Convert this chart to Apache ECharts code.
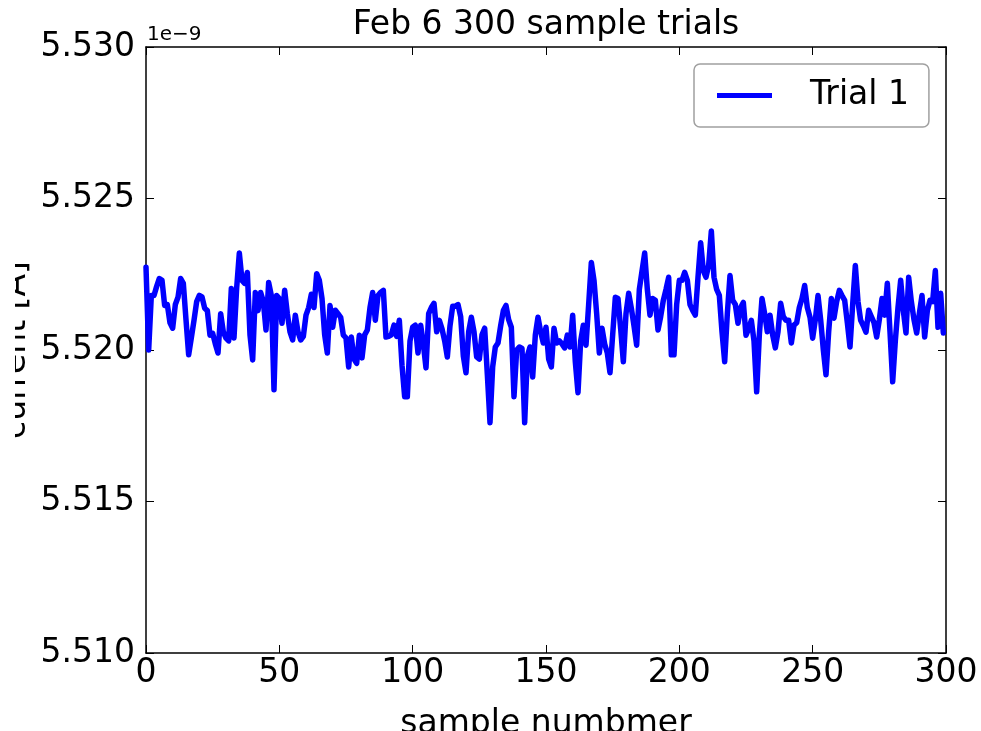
<!DOCTYPE html>
<html>
<head>
<meta charset="utf-8">
<script src="https://cdn.jsdelivr.net/npm/echarts@6/dist/echarts.min.js"></script>
<style>html,body{margin:0;padding:0;background:#fff;}#c{width:981px;height:731px;}</style>
</head>
<body>
<div id="c"></div>
<script>
const titleText = 'Feb 6 300 sample trials';
const seriesName = 'Trial 1';
const xName = 'sample numbmer';
const yName = 'current [A]';
const yExponent = '1e\u22129';
const xTicks = [0, 50, 100, 150, 200, 250, 300];
const yTicks = [5.510, 5.515, 5.520, 5.525, 5.530];
// current values in units of 1e-9 A, one per sample 0..299
const trial1 = [
5.52273,5.52000,5.52180,5.52180,5.52210,5.52236,5.52230,5.52147,5.52150,5.52090,
5.52072,5.52150,5.52174,5.52236,5.52220,5.52100,5.51984,5.52040,5.52098,5.52160,
5.52180,5.52175,5.52138,5.52130,5.52049,5.52055,5.52020,5.51990,5.52120,5.52060,
5.52039,5.52030,5.52203,5.52040,5.52205,5.52320,5.52230,5.52220,5.52256,5.52050,
5.51967,5.52190,5.52130,5.52190,5.52160,5.52066,5.52223,5.52180,5.51869,5.52180,
5.52170,5.52088,5.52197,5.52120,5.52060,5.52033,5.52115,5.52060,5.52033,5.52045,
5.52115,5.52140,5.52184,5.52140,5.52252,5.52230,5.52170,5.52050,5.51990,5.52147,
5.52075,5.52131,5.52120,5.52108,5.52049,5.52040,5.51944,5.52043,5.51970,5.51956,
5.52049,5.51974,5.52050,5.52066,5.52140,5.52190,5.52098,5.52180,5.52190,5.52197,
5.52043,5.52045,5.52050,5.52082,5.52045,5.52098,5.51950,5.51846,5.51846,5.52030,
5.52075,5.52082,5.51990,5.52082,5.52020,5.51941,5.52120,5.52140,5.52154,5.52060,
5.52098,5.52070,5.52030,5.51977,5.52080,5.52144,5.52144,5.52150,5.52110,5.51980,
5.51925,5.52060,5.52108,5.52060,5.51977,5.51970,5.52050,5.52072,5.51920,5.51760,
5.51944,5.52010,5.52023,5.52080,5.52130,5.52147,5.52100,5.52075,5.51846,5.52000,
5.52010,5.52005,5.51760,5.51980,5.52010,5.51911,5.52050,5.52108,5.52060,5.52023,
5.52075,5.51970,5.51944,5.52072,5.52023,5.52030,5.52020,5.52007,5.52049,5.52010,
5.52115,5.51960,5.51859,5.52030,5.52082,5.52016,5.52150,5.52289,5.52230,5.52120,
5.51990,5.52072,5.52020,5.51990,5.51925,5.52050,5.52174,5.52170,5.52070,5.51961,
5.52120,5.52187,5.52138,5.52080,5.52016,5.52200,5.52260,5.52320,5.52200,5.52115,
5.52170,5.52164,5.52066,5.52110,5.52164,5.52200,5.52240,5.51984,5.51984,5.52150,
5.52230,5.52230,5.52256,5.52230,5.52150,5.52131,5.52115,5.52240,5.52354,5.52262,
5.52240,5.52280,5.52393,5.52240,5.52200,5.52180,5.52060,5.51961,5.52120,5.52246,
5.52164,5.52150,5.52088,5.52140,5.52157,5.52049,5.52070,5.52098,5.52030,5.51862,
5.52050,5.52170,5.52120,5.52060,5.52115,5.52050,5.52007,5.52060,5.52154,5.52110,
5.52098,5.52098,5.52023,5.52082,5.52090,5.52140,5.52170,5.52213,5.52140,5.52108,
5.52039,5.52100,5.52180,5.52100,5.52000,5.51918,5.52060,5.52170,5.52105,5.52160,
5.52197,5.52180,5.52164,5.52090,5.52010,5.52150,5.52279,5.52160,5.52098,5.52080,
5.52059,5.52131,5.52110,5.52090,5.52043,5.52100,5.52170,5.52115,5.52220,5.52060,
5.51895,5.52030,5.52140,5.52230,5.52130,5.52056,5.52240,5.52160,5.52100,5.52056,
5.52120,5.52180,5.52043,5.52130,5.52164,5.52160,5.52262,5.52075,5.52187,5.52056
];

const FONT = 'DejaVu Sans';
const xMin = xTicks[0], xMax = xTicks[xTicks.length - 1], xStep = xTicks[1] - xTicks[0];
const yMin = yTicks[0], yMax = yTicks[yTicks.length - 1], yStep = 0.005;

function axisBase(showLabel, margin, isY) {
  return {
    type: 'value',
    min: isY ? yMin : xMin,
    max: isY ? yMax : xMax,
    interval: isY ? yStep : xStep,
    axisLine: { show: true, onZero: false, lineStyle: { color: '#000', width: 1.5 } },
    axisTick: { show: true, inside: true, length: 8, lineStyle: { color: '#000', width: 1 } },
    axisLabel: {
      show: showLabel, margin: margin, color: '#000', fontSize: 33, fontFamily: FONT,
      formatter: isY ? (v) => v.toFixed(3) : (v) => String(v)
    },
    splitLine: { show: false }
  };
}

const chart = echarts.init(document.getElementById('c'), null, { renderer: 'canvas' });
chart.setOption({
  animation: false,
  backgroundColor: '#fff',
  grid: { left: 146, right: 35, top: 47, bottom: 78, containLabel: false },
  xAxis: [
    Object.assign(axisBase(true, 4, false), { position: 'bottom' }),
    Object.assign(axisBase(false, 4, false), { position: 'top' })
  ],
  yAxis: [
    Object.assign(axisBase(true, 11, true), { position: 'left' }),
    Object.assign(axisBase(false, 11, true), { position: 'right' })
  ],
  legend: {
    data: [seriesName],
    left: 694, top: 64,
    padding: [15, 20, 15, 23],
    icon: 'rect',
    itemWidth: 55, itemHeight: 5,
    textStyle: { fontSize: 33, fontFamily: FONT, color: '#000', padding: [0, 0, 0, 33] },
    borderColor: '#a0a0a0', borderWidth: 1.5, borderRadius: 6,
    backgroundColor: '#fff'
  },
  series: [{
    name: seriesName,
    type: 'line',
    xAxisIndex: 0, yAxisIndex: 0,
    data: trial1.map((v, i) => [i, v]),
    symbol: 'none',
    showSymbol: false,
    lineStyle: { color: '#0000ff', width: 5.5, join: 'round', cap: 'round' },
    itemStyle: { color: '#0000ff' },
    emphasis: { disabled: true }
  }],
  graphic: [
    { type: 'text', x: 546, y: 9, style: { text: titleText, fontSize: 33, fontFamily: FONT, fill: '#000', align: 'center', verticalAlign: 'top', textAlign: 'center', textVerticalAlign: 'top' } },
    { type: 'text', x: 147, y: 25, style: { text: yExponent, fontSize: 20, fontFamily: FONT, fill: '#000', align: 'left', verticalAlign: 'top', textAlign: 'left', textVerticalAlign: 'top' } },
    { type: 'text', x: 546, y: 708, style: { text: xName, fontSize: 33, fontFamily: FONT, fill: '#000', align: 'center', verticalAlign: 'top', textAlign: 'center', textVerticalAlign: 'top' } },
    { type: 'text', x: 33, y: 350, rotation: Math.PI / 2, z: 10, style: { text: yName, fontSize: 33, fontFamily: FONT, fill: '#000', align: 'center', verticalAlign: 'bottom', textAlign: 'center', textVerticalAlign: 'bottom' } },
    { type: 'rect', z: 20, shape: { x: 0, y: 240, width: 15, height: 220 }, style: { fill: '#fff' } }
  ]
});
</script>
</body>
</html>
